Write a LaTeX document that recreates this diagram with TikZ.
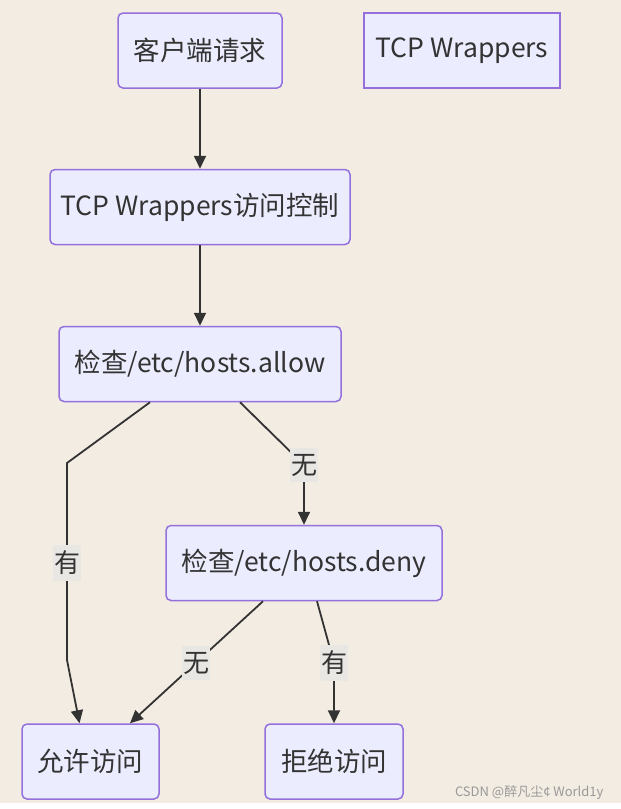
\documentclass[tikz,border=0pt]{standalone}
\usepackage{fontspec}
\setmainfont{Noto Sans CJK SC}
\usetikzlibrary{arrows.meta}
\definecolor{bgbeige}{HTML}{F3ECE2}
\definecolor{nodefill}{HTML}{ECECFF}
\definecolor{nodeline}{HTML}{9370DB}
\definecolor{edgeline}{HTML}{333333}
\definecolor{labelbg}{HTML}{E8E7E4}

\begin{document}
\begin{tikzpicture}[x=1pt, y=-1pt, >={Triangle[length=13pt,width=12pt]},
    box/.style={draw=nodeline, line width=1.5pt, fill=nodefill, rounded corners=5pt, text=edgeline, font=\fontsize{26.5}{30}\selectfont, minimum height=75pt, inner xsep=2pt},
    lab/.style={fill=labelbg, text=edgeline, font=\fontsize{26}{30}\selectfont, inner xsep=1pt, inner ysep=6pt},
    flow/.style={draw=edgeline, line width=1.8pt}]
    \useasboundingbox (0,0) rectangle (621,809);
    \fill[bgbeige] (0,0) rectangle (621,803);
    \fill[white] (0,803) rectangle (621,809);
    % nodes
    \node[box, minimum width=164pt] (req) at (200,50.5) {客户端请求};
    \node[box, rounded corners=0pt, minimum width=196pt] (title) at (462,50.5) {TCP Wrappers};
    \node[box, minimum width=300pt] (ctrl) at (200,207) {TCP Wrappers访问控制};
    \node[box, minimum width=282pt] (allow) at (200,364) {检查/etc/hosts.allow};
    \node[box, minimum width=276pt] (deny) at (304,563) {检查/etc/hosts.deny};
    \node[box, minimum width=137pt] (permit) at (90.5,761.5) {允许访问};
    \node[box, minimum width=138pt] (reject) at (334,761.5) {拒绝访问};
    % bends
    \coordinate (a1) at (67,463);
    \coordinate (a2) at (67,660);
    \coordinate (b1) at (304,465);
    \coordinate (c1) at (334,663);
    % edges
    \draw[flow, ->] (req) -- (ctrl);
    \draw[flow, ->] (ctrl) -- (allow);
    \draw[flow, ->] ([xshift=-50pt]allow.south) -- (a1) -- (a2) -- ([xshift=-11pt]permit.north);
    \draw[flow, ->] ([xshift=40pt]allow.south) -- (b1) -- (deny.north);
    \draw[flow, ->] ([xshift=-41pt]deny.south) -- ([xshift=39.5pt]permit.north);
    \draw[flow, ->] ([xshift=13pt]deny.south) -- (c1) -- (reject.north);
    % edge labels
    \node[lab] (l1) at (67,563) {有};
    \node[lab] (l2) at (304,465) {无};
    \node[lab] (l3) at (196,663) {无};
    \node[lab] (l4) at (334,663) {有};
    \node[text=gray!80, font=\fontsize{13}{15}\selectfont, anchor=east] (mark) at (607,793) {CSDN @醉凡尘¢ World1y};
\end{tikzpicture}
\end{document}
